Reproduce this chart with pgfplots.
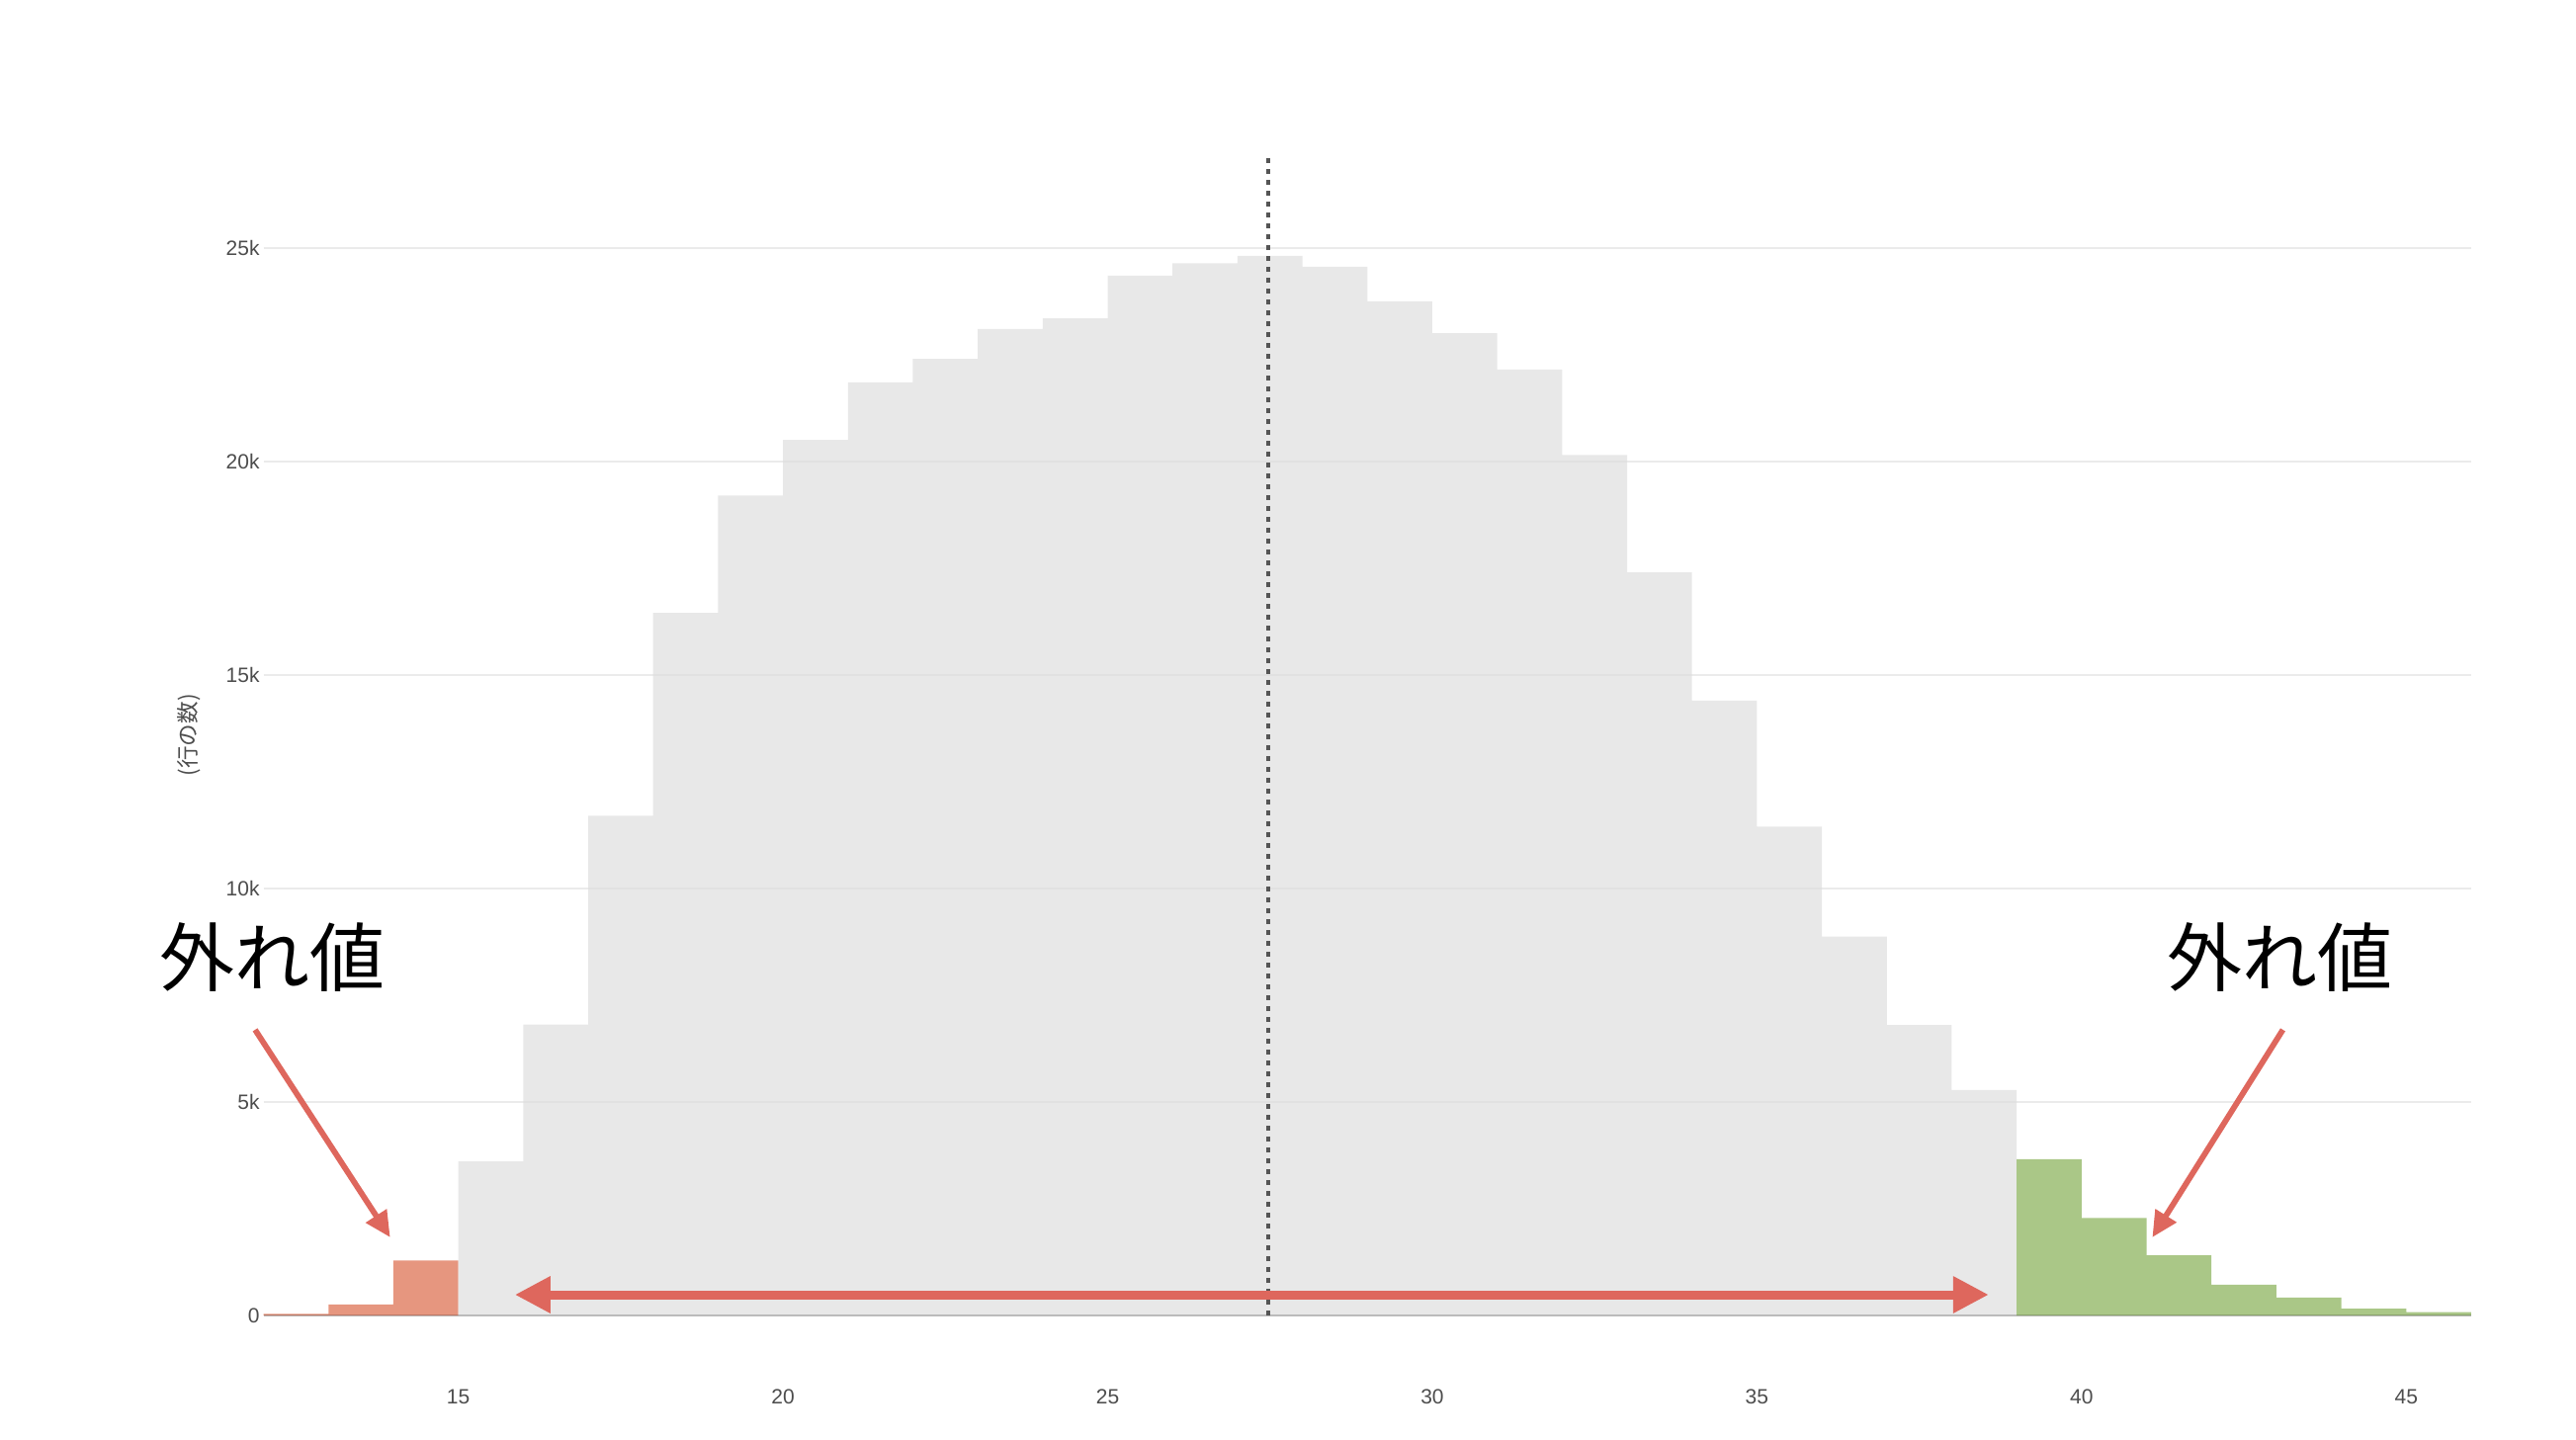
\documentclass[border=0pt]{standalone}
\usepackage{fontspec}
\setmainfont{Liberation Sans}
\newfontfamily\jp{Noto Sans CJK JP}
\usepackage{pgfplots}
\pgfplotsset{compat=1.18}
\usetikzlibrary{arrows.meta}
\definecolor{redbar}{HTML}{E6967F}
\definecolor{greenbar}{HTML}{AAC787}
\definecolor{arrowcol}{HTML}{DE675D}
\definecolor{gridcol}{HTML}{EBEBEB}
\definecolor{tickcol}{HTML}{4D4D4D}
\definecolor{dotcol}{HTML}{555555}
\definecolor{barfill}{RGB}{220,220,220}
\begin{document}
\begin{tikzpicture}
\path (0,0) rectangle (1303pt,728pt);
\begin{axis}[
  at={(133.3pt,62.5pt)}, anchor=south west,
  scale only axis, width=1116.7pt, height=587.2pt,
  xmin=12, xmax=46, ymin=0, ymax=27180,
  clip=false,
  axis line style={draw=none},
  major tick length=0pt,
  xtick={15,20,...,45},
  ytick={0,5000,10000,15000,20000,25000},
  yticklabels={0,5k,10k,15k,20k,25k},
  scaled y ticks=false,
  ymajorgrids,
  grid style={color=gridcol, line width=1.1pt},
  tick label style={font=\fontsize{10.5}{12}\selectfont, text=tickcol},
  /pgf/number format/assume math mode=true,
  xticklabel style={yshift=-34pt},
  yticklabel style={xshift=1.5pt},
]
% outliers low
\addplot[const plot, fill=redbar, draw=none] coordinates {
  (12,35) (13,260) (14,1290) (15,1290)
} \closedcycle;
% main body
\addplot[const plot, fill=barfill, fill opacity=0.65, draw=none] coordinates {
  (15,3610) (16,6810) (17,11700) (18,16450) (19,19200) (20,20500)
  (21,21850) (22,22400) (23,23100) (24,23350) (25,24350) (26,24640)
  (27,24810) (28,24560) (29,23750) (30,23000) (31,22150) (32,20150)
  (33,17400) (34,14400) (35,11450) (36,8870) (37,6800) (38,5280) (39,5280)
} \closedcycle;
% outliers high
\addplot[const plot, fill=greenbar, draw=none] coordinates {
  (39,3660) (40,2280) (41,1410) (42,720) (43,420) (44,160) (45,77) (46,77)
} \closedcycle;
% baseline
\draw[black, opacity=0.18, line width=1pt] (axis cs:12,0) -- (axis cs:46,0);
% mean line
\draw[dotcol, line width=1.9pt, dash pattern=on 2.6pt off 2.9pt] (axis cs:27.47,0) -- (axis cs:27.47,27180);
% range arrow
\draw[arrowcol, line width=4.5pt, {Triangle[length=18pt,width=17.5pt]}-{Triangle[length=18pt,width=17.5pt]}]
  (axis cs:15.87,486) -- (axis cs:38.57,486);
% outlier arrows
\draw[arrowcol, line width=2.9pt, -{Triangle[length=13pt,width=12pt]}]
  (axis cs:11.87,6690) -- (axis cs:13.95,1830);
\draw[arrowcol, line width=2.9pt, -{Triangle[length=13pt,width=12pt]}]
  (axis cs:43.1,6690) -- (axis cs:41.09,1830);
% labels
\node[font=\jp\fontsize{38}{40}\selectfont, text=black] at (axis cs:12.14,8380) {外れ値};
\node[font=\jp\fontsize{38}{40}\selectfont, text=black] at (axis cs:43.06,8380) {外れ値};
\node[rotate=90, font=\jp\fontsize{11.3}{13}\selectfont, text=tickcol] at (axis cs:10.85,13590) {(行の数)};
\end{axis}
\end{tikzpicture}
\end{document}
